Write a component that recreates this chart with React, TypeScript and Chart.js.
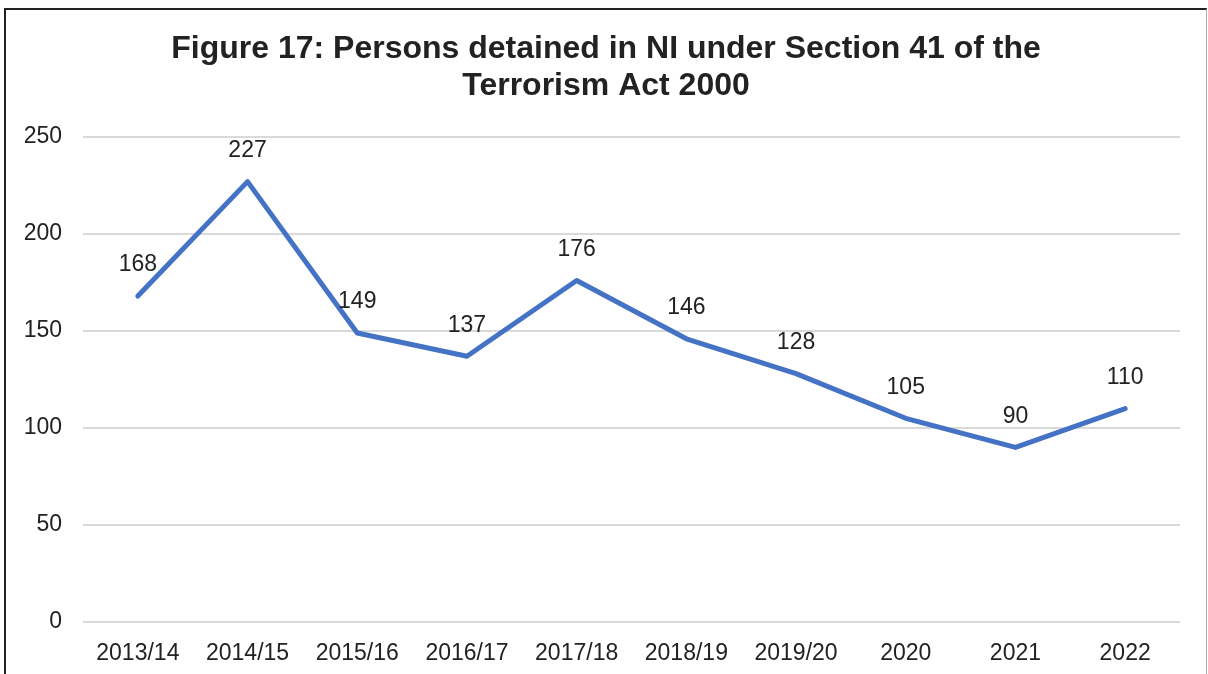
import React, { useEffect, useRef } from "react";
import { Chart, registerables } from "chart.js";

Chart.register(...registerables);

const categories = ["2013/14", "2014/15", "2015/16", "2016/17", "2017/18", "2018/19", "2019/20", "2020", "2021", "2022"];
const detained = [168, 227, 149, 137, 176, 146, 128, 105, 90, 110];
const titleLines = ["Figure 17: Persons detained in NI under Section 41 of the", "Terrorism Act 2000"];

const FONT = "'Liberation Sans', Arial, sans-serif";

const labelPlugin = {
  id: "pointLabels",
  afterDatasetsDraw(chart: any) {
    const ctx = chart.ctx;
    const meta = chart.getDatasetMeta(0);
    ctx.save();
    ctx.font = `23px ${FONT}`;
    ctx.fillStyle = "#222";
    ctx.textAlign = "center";
    ctx.textBaseline = "middle";
    meta.data.forEach((pt: any, i: number) => {
      ctx.fillText(String(chart.data.datasets[0].data[i]), pt.x, pt.y - 31);
    });
    ctx.restore();
  },
};

const titlePlugin = {
  id: "centeredTitle",
  afterDraw(chart: any) {
    const ctx = chart.ctx;
    ctx.save();
    ctx.font = `bold 32px ${FONT}`;
    ctx.fillStyle = "#222";
    ctx.textAlign = "center";
    ctx.textBaseline = "middle";
    titleLines.forEach((line, i) => {
      ctx.fillText(line, 606, 49 + i * 37);
    });
    ctx.restore();
  },
};

export default function App() {
  const ref = useRef<HTMLCanvasElement>(null);
  useEffect(() => {
    if (!ref.current) return;
    const chart = new Chart(ref.current, {
      type: "line",
      data: {
        labels: categories,
        datasets: [
          {
            data: detained,
            borderColor: "#4472C4",
            backgroundColor: "#4472C4",
            borderWidth: 5,
            pointRadius: 0,
            tension: 0,
            borderJoinStyle: "round",
            borderCapStyle: "round",
          },
        ],
      },
      plugins: [labelPlugin, titlePlugin],
      options: {
        animation: false,
        responsive: false,
        maintainAspectRatio: false,
        layout: { padding: { left: 0, right: 28, top: 137, bottom: 0 } },
        plugins: {
          legend: { display: false },
          tooltip: { enabled: false },
          title: { display: false },
        },
        scales: {
          x: {
            type: "category",
            offset: true,
            grid: { display: false, drawTicks: false },
            border: { display: false },
            ticks: { color: "#222", font: { family: FONT, size: 23 }, padding: 18, maxRotation: 0, autoSkip: false },
            afterFit(scale: any) {
              scale.height = 52;
            },
          },
          y: {
            min: 0,
            max: 250,
            grid: { color: "#d9d9d9", lineWidth: 2, drawTicks: false },
            border: { display: false },
            ticks: { stepSize: 50, color: "#222", font: { family: FONT, size: 23 }, padding: 21 },
            afterFit(scale: any) {
              scale.width = 83;
            },
          },
        },
      },
    });
    return () => chart.destroy();
  }, []);
  return (
    <div style={{ position: "absolute", left: 0, top: 0, width: 1208, height: 674, background: "#fff", overflow: "hidden" }}>
      <canvas ref={ref} width={1208} height={674} style={{ position: "absolute", left: 0, top: 0 }} />
      <div
        style={{
          position: "absolute",
          left: 4,
          top: 8,
          width: 1200,
          height: 720,
          borderLeft: "2px solid #222",
          borderTop: "2px solid #222",
          borderRight: "1px solid #aaa",
          pointerEvents: "none",
        }}
      />
    </div>
  );
}
